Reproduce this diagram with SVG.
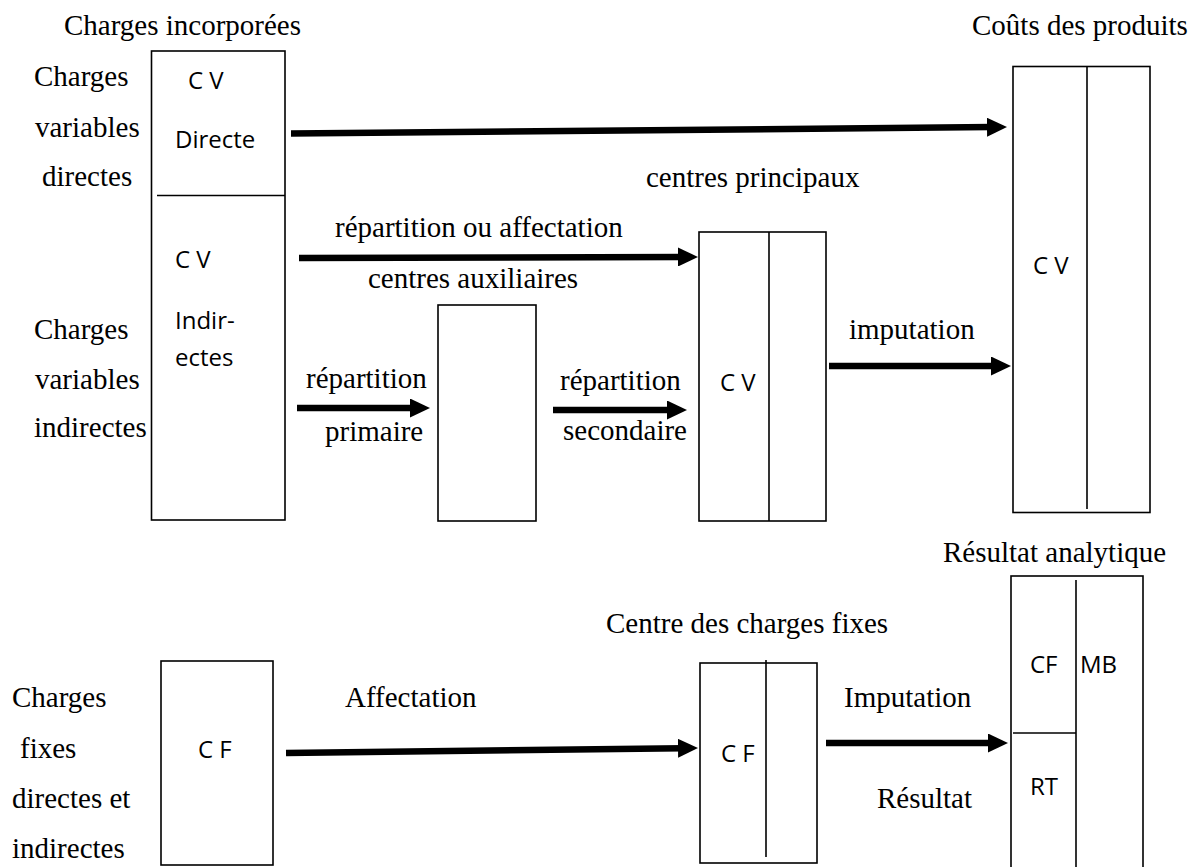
<svg xmlns="http://www.w3.org/2000/svg" width="1192" height="867" viewBox="0 0 1192 867">
<defs>
<style>
.t{font-family:"Liberation Serif","Times New Roman",serif;font-size:29px;fill:#000}
.s{font-family:"Open Sans","Noto Sans",sans-serif;font-size:24px;fill:#000}
.b{fill:#fff;stroke:#000;stroke-width:1.6}
.d{stroke:#000;stroke-width:1.6;fill:none}
.a{stroke:#000;stroke-width:6.5;fill:none;marker-end:url(#ah)}
</style>
<marker id="ah" viewBox="0 0 20 19" markerWidth="20" markerHeight="19" markerUnits="userSpaceOnUse" refX="5" refY="9.5" orient="auto">
<path d="M0,0 L20,9.5 L0,19 Z" fill="#000"/>
</marker>
</defs>
<rect width="1192" height="867" fill="#fff"/>

<g id="labels">
<text class="t" x="64" y="35">Charges incorporées</text>
<text class="t" x="34" y="86">Charges</text>
<text class="t" x="35" y="137">variables</text>
<text class="t" x="42" y="186">directes</text>
<text class="t" x="34" y="339">Charges</text>
<text class="t" x="35" y="389">variables</text>
<text class="t" x="34" y="437">indirectes</text>
<text class="t" x="972" y="35">Coûts des produits</text>
<text class="t" x="646" y="187">centres principaux</text>
<text class="t" x="335" y="237">répartition ou affectation</text>
<text class="t" x="368" y="288">centres auxiliaires</text>
<text class="t" x="306" y="388">répartition</text>
<text class="t" x="325" y="441">primaire</text>
<text class="t" x="560" y="390">répartition</text>
<text class="t" x="563" y="440">secondaire</text>
<text class="t" x="849" y="339">imputation</text>
<text class="t" x="943" y="562">Résultat analytique</text>
<text class="t" x="606" y="633">Centre des charges fixes</text>
<text class="t" x="12" y="707">Charges</text>
<text class="t" x="20" y="758">fixes</text>
<text class="t" x="12" y="808">directes et</text>
<text class="t" x="12" y="858">indirectes</text>
<text class="t" x="345" y="707">Affectation</text>
<text class="t" x="844" y="707">Imputation</text>
<text class="t" x="877" y="808">Résultat</text>
</g>

<g id="charges-incorporees">
<rect class="b" x="151.5" y="51" width="133.5" height="469"/>
<line class="d" x1="157" y1="195.5" x2="285" y2="195.5"/>
<text class="s" x="188" y="89">C V</text>
<text class="s" x="175" y="148">Directe</text>
<text class="s" x="175" y="268">C V</text>
<text class="s" x="175" y="329">Indir-</text>
<text class="s" x="175" y="366">ectes</text>
</g>

<g id="centres-auxiliaires">
<rect class="b" x="438" y="305" width="98" height="216"/>
</g>

<g id="centres-principaux">
<rect class="b" x="699" y="232" width="127" height="289"/>
<line class="d" x1="769" y1="232" x2="769" y2="521"/>
<text class="s" x="720" y="391">C V</text>
</g>

<g id="couts-produits">
<rect class="b" x="1013" y="66.5" width="137" height="446"/>
<line class="d" x1="1087" y1="66.5" x2="1087" y2="509"/>
<text class="s" x="1033" y="274">C V</text>
</g>

<g id="charges-fixes">
<rect class="b" x="161" y="661" width="112" height="204"/>
<text class="s" x="198" y="758">C F</text>
</g>

<g id="centre-charges-fixes">
<rect class="b" x="700" y="663" width="117" height="200"/>
<line class="d" x1="766" y1="660" x2="766" y2="857"/>
<text class="s" x="721" y="762">C F</text>
</g>

<g id="resultat-analytique">
<rect class="b" x="1011" y="576" width="132" height="300"/>
<line class="d" x1="1076" y1="580" x2="1076" y2="867"/>
<line class="d" x1="1013" y1="733" x2="1076" y2="733"/>
<text class="s" x="1030" y="673">CF</text>
<text class="s" x="1080" y="673">MB</text>
<text class="s" x="1030" y="795">RT</text>
</g>

<g id="connectors">
<line class="a" x1="291" y1="133.5" x2="992" y2="127.1"/>
<line class="a" x1="299" y1="258" x2="683" y2="257"/>
<line class="a" x1="297" y1="408" x2="415" y2="408"/>
<line class="a" x1="553" y1="410" x2="672" y2="410"/>
<line class="a" x1="829" y1="366" x2="996" y2="366"/>
<line class="a" x1="286" y1="753" x2="683" y2="748.2"/>
<line class="a" x1="826" y1="743" x2="993" y2="743"/>
</g>
</svg>
